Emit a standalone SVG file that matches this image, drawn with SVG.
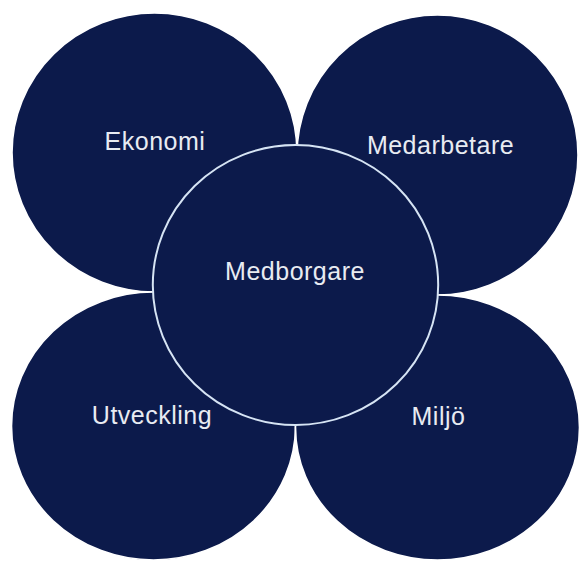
<svg xmlns="http://www.w3.org/2000/svg" width="581" height="561" viewBox="0 0 581 561">
  <style>
    .c { fill: #0c1a4b; stroke: #ffffff; stroke-width: 1.6; }
    .m { fill: #0c1a4b; stroke: #d6e4f4; stroke-width: 2; }
    .t { font-family: "Liberation Sans", Arial, sans-serif; font-size: 25px; fill: #e8ebf2; text-anchor: middle; letter-spacing: 0.5px; }
  </style>
  <rect x="0" y="0" width="581" height="561" fill="#ffffff"/>
  <g id="connectors"></g>
  <g id="node-ekonomi">
    <ellipse class="c" cx="154.5" cy="152.5" rx="142.5" ry="139.5"/>
    <text class="t" x="155" y="150">Ekonomi</text>
  </g>
  <g id="node-medarbetare">
    <ellipse class="c" cx="437.5" cy="155" rx="140.5" ry="140"/>
    <text class="t" x="440.5" y="153.5">Medarbetare</text>
  </g>
  <g id="node-utveckling">
    <ellipse class="c" cx="153.5" cy="426" rx="142" ry="134"/>
    <text class="t" x="152" y="424">Utveckling</text>
  </g>
  <g id="node-miljo">
    <ellipse class="c" cx="437.5" cy="427.5" rx="142" ry="132.5"/>
    <text class="t" x="438.5" y="424.5">Miljö</text>
  </g>
  <g id="node-medborgare">
    <ellipse class="m" cx="295.5" cy="285" rx="142.7" ry="140"/>
    <text class="t" x="295" y="280">Medborgare</text>
  </g>
</svg>
